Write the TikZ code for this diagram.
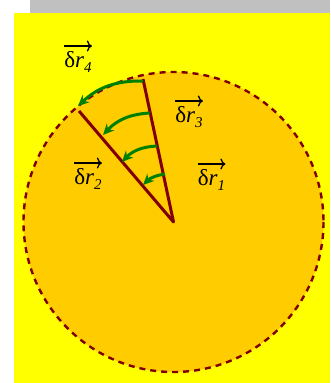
\documentclass[tikz,border=0pt]{standalone}
\usepackage{fontspec}
\setmainfont{Liberation Serif}
\usetikzlibrary{arrows.meta,calc}
\definecolor{bgyellow}{HTML}{FFFF00}
\definecolor{disc}{HTML}{FFCC00}
\definecolor{darkred}{HTML}{800000}
\definecolor{arrgreen}{HTML}{008000}
\definecolor{stripgray}{HTML}{C0C0C0}
\newcommand{\dr}[1]{δ\textit{r}\raisebox{-0.22em}{\fontsize{15}{15}\selectfont\textit{#1}}}
\begin{document}
\begin{tikzpicture}[x=1pt,y=-1pt,
  radline/.style={draw=darkred,line width=3pt},
  turn/.style={draw=arrgreen,line width=3pt,-{Stealth[length=11pt,width=10pt]}},
  vlabel/.style={font=\fontsize{23}{26}\selectfont,inner sep=0pt},
  vecarrow/.style={draw=black,line width=1.3pt,-{To[length=5pt,width=11pt,line width=1.3pt]}}]
\useasboundingbox (0,0) rectangle (330,383);
\fill[white] (0,0) rectangle (330,383);
\fill[stripgray] (30,0) rectangle (330,13);
\fill[bgyellow] (14,13) rectangle (330,383);
\coordinate (C) at (173.5,222);
\fill[disc] (C) circle (150);
\draw[darkred,line width=2.4pt,dash pattern=on 6pt off 5pt] (C) circle (150);
\coordinate (T) at (143,79);
\coordinate (L) at (79,111);
\draw[radline,line join=round] (T) -- (C) -- (L);
% green arrows
\coordinate (a1) at (143,81);
\coordinate (b1) at (78,106);
\coordinate (a2) at (150,113);
\coordinate (b2) at (103,135);
\coordinate (a3) at (157,146);
\coordinate (b3) at (122,162);
\coordinate (a4) at (165,174);
\coordinate (b4) at (143,185);
\draw[turn] (a1) to[bend right=22] (b1);
\draw[turn] (a2) to[bend right=22] (b2);
\draw[turn] (a3) to[bend right=22] (b3);
\draw[turn] (a4) to[bend right=18] (b4);
% labels
\node[vlabel] (r4) at (78,62) {\dr{4}};
\node[vlabel] (r3) at (189,117) {\dr{3}};
\node[vlabel] (r2) at (88,179) {\dr{2}};
\node[vlabel] (r1) at (211.5,180) {\dr{1}};
\foreach \n in {r1,r2,r3,r4}{
  \draw[vecarrow] ($(\n.west)+(0,-16)$) -- ($(\n.east)+(0,-16)$);
}
\end{tikzpicture}
\end{document}
